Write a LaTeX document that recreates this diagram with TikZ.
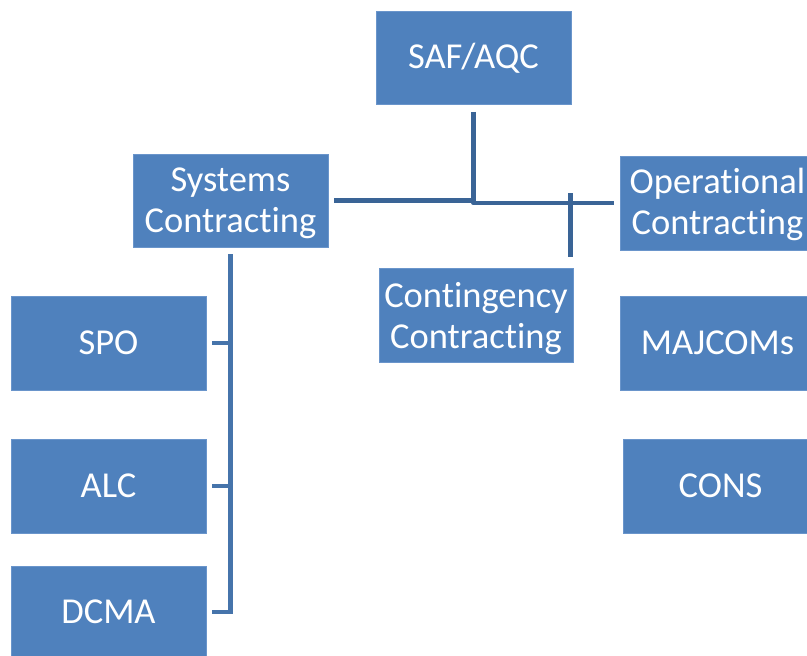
\documentclass[tikz,border=0pt]{standalone}
\usepackage{fontspec}
\setmainfont{Carlito}[RawFeature={-liga;-clig;-calt;-dlig}]
\newcommand{\nolig}{\kern0pt{}}
\definecolor{boxfill}{HTML}{4F81BD}
\definecolor{boxedge}{HTML}{6A95CB}
\definecolor{linedark}{HTML}{3A6496}
\definecolor{linelight}{HTML}{4674AB}
\tikzset{
  orgbox/.style={rectangle, fill=boxfill, draw=boxedge, line width=0.8pt,
    text=white, align=center, inner sep=0pt,
    font=\fontsize{36.5}{41}\selectfont},
  boxtext/.style={text=white, align=center, inner sep=0pt,
    font=\fontsize{36.5}{41}\selectfont},
  conn/.style={draw=linedark, line width=4.6pt},
  conn2/.style={draw=linelight, line width=4.6pt}
}
\begin{document}
\begin{tikzpicture}[x=1pt,y=-1pt]
\useasboundingbox (0,0) rectangle (807,656);
\clip (0,0) rectangle (807,656);
\fill[white] (0,0) rectangle (807,656);
% boxes
\node[orgbox, minimum width=195pt, minimum height=93pt] (saf) at (473.5,58) {SAF/AQC};
\node[orgbox, minimum width=195pt, minimum height=93pt] (sys) at (230.5,200.5) {};
\node[boxtext] (syst) at ([yshift=-3pt]sys.center) {Systems\\Contract\nolig ing};
\node[orgbox, minimum width=195pt, minimum height=94pt] (op) at (717.5,203) {};
\node[boxtext] (opt) at ([yshift=-1.5pt]op.center) {Operat\nolig ional\\Contract\nolig ing};
\node[orgbox, minimum width=194pt, minimum height=94pt] (cont) at (476,315) {};
\node[boxtext] (contt) at ([yshift=-3.5pt]cont.center) {Contingency\\Contract\nolig ing};
\node[orgbox, minimum width=195pt, minimum height=94pt] (spo) at (108.5,343) {SPO};
\node[orgbox, minimum width=195pt, minimum height=94pt] (alc) at (108.5,486) {ALC};
\node[orgbox, minimum width=195pt, minimum height=92pt] (dcma) at (108.5,612) {DCMA};
\node[orgbox, minimum width=195pt, minimum height=94pt] (maj) at (717.5,343) {MAJCOMs};
\node[orgbox, minimum width=195pt, minimum height=94pt] (cons) at (720.5,486) {CONS};
% connectors
\draw[conn, shorten <=6pt] (sys.east) -- (sys.east -| saf.south);
\draw[conn, shorten <=7pt, shorten >=6pt, line join=round] (saf.south) -- (saf.south |- op.west) -- (op.west);
\coordinate (ctop) at ([xshift=-3pt]cont.north east |- op.west);
\draw[conn, shorten <=11pt] ([xshift=-3pt]cont.north east) -- ([yshift=10pt]ctop);
\draw[conn2, shorten <=7pt, shorten >=6pt] (sys.south) -- (sys.south |- dcma.east) -- (dcma.east);
\draw[conn2, shorten >=6pt] (sys.south |- spo.east) -- (spo.east);
\draw[conn2, shorten >=6pt] (sys.south |- alc.east) -- (alc.east);
\end{tikzpicture}
\end{document}
